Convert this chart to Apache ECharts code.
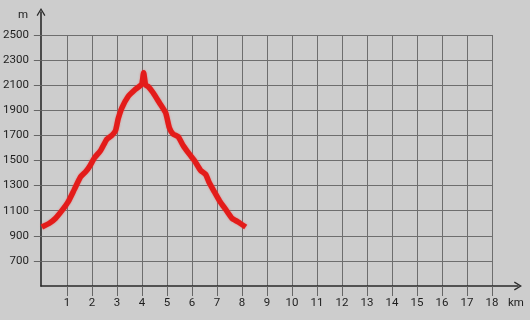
<!doctype html>
<html lang="en">
<head>
	<meta charset="UTF-8">
	<title>Höhenprofil</title>
	<script src="https://cdn.jsdelivr.net/npm/echarts@6/dist/echarts.min.js"></script>
	<style>
		html, body { margin: 0; padding: 0; width: 100%; height: 100%; background: #cdcdcd; }
		#main { width: 530px; height: 320px; }
	</style>
</head>
<body>
	<div id="main"></div>
	<script type="text/javascript">
		// distance (km) and elevation (m)
		var dist = [0, 0.3, 0.55, 0.8, 1.05, 1.3, 1.55, 1.75, 1.9, 2.1, 2.35, 2.6, 2.8, 2.95, 3.05, 3.2, 3.45, 3.7, 3.9, 4.0, 4.07, 4.15, 4.25, 4.45, 4.7, 4.95, 5.1, 5.25, 5.45, 5.65, 5.9, 6.1, 6.35, 6.55, 6.7, 6.9, 7.1, 7.35, 7.6, 7.85, 8.15];
		var elev = [970, 1000, 1040, 1100, 1170, 1270, 1370, 1410, 1450, 1520, 1580, 1670, 1700, 1740, 1830, 1920, 2010, 2060, 2090, 2110, 2200, 2100, 2090, 2040, 1960, 1880, 1760, 1710, 1690, 1620, 1550, 1500, 1420, 1390, 1320, 1250, 1180, 1110, 1040, 1010, 970];
		var xTicks = [1, 2, 3, 4, 5, 6, 7, 8, 9, 10, 11, 12, 13, 14, 15, 16, 17, 18];
		var yTicks = [700, 900, 1100, 1300, 1500, 1700, 1900, 2100, 2300, 2500];

		var chevron = 'path://M0,10 L6,0 L12,10 L10.5,10.9 L6,3.2 L1.5,10.9 Z';
		var labelFont = { color: '#1e1e1e', fontSize: 11.5, fontFamily: 'Roboto' };

		var myChart = echarts.init(document.getElementById('main'));
		var option = {
			backgroundColor: '#cdcdcd',
			animation: false,
			grid: [
				{ left: 41, right: 38, top: 35, bottom: 34 },
				{ left: 41, right: 12, top: 12, bottom: 34 }
			],
			xAxis: [
				{
					type: 'value', gridIndex: 0, min: 0, max: 18, interval: 1,
					axisLine: { show: false },
					axisTick: { show: true, length: 10, customValues: xTicks, lineStyle: { color: '#666' } },
					axisLabel: Object.assign({ margin: 11, customValues: xTicks }, labelFont),
					splitLine: { show: true, lineStyle: { color: '#6e6e6e', width: 1 } }
				},
				{
					type: 'value', gridIndex: 1, min: 0, max: 1,
					name: 'km', nameLocation: 'end', nameGap: -10,
					nameTextStyle: Object.assign({ align: 'left', verticalAlign: 'top', padding: [11, 0, 0, 0] }, labelFont),
					axisLine: { show: true, symbol: ['none', chevron], symbolSize: [12, 8], lineStyle: { color: '#2a2a2a', width: 1.6 } },
					axisTick: { show: false }, axisLabel: { show: false }, splitLine: { show: false }
				}
			],
			yAxis: [
				{
					type: 'value', gridIndex: 0, min: 500, max: 2500, interval: 200,
					axisLine: { show: false },
					axisTick: { show: true, length: 8, customValues: yTicks, lineStyle: { color: '#666' } },
					axisLabel: Object.assign({ margin: 13, customValues: yTicks, formatter: function (v) { return String(v); } }, labelFont),
					splitLine: { show: true, lineStyle: { color: '#6e6e6e', width: 1 } }
				},
				{
					type: 'value', gridIndex: 1, min: 0, max: 1,
					name: 'm', nameLocation: 'end', nameGap: -3,
					nameTextStyle: Object.assign({ align: 'right', verticalAlign: 'middle', padding: [0, 13, 0, 0] }, labelFont),
					axisLine: { show: true, symbol: ['none', chevron], symbolSize: [12, 8], lineStyle: { color: '#2a2a2a', width: 1.6 } },
					axisTick: { show: false }, axisLabel: { show: false }, splitLine: { show: false }
				}
			],
			series: [
				{
					type: 'line',
					xAxisIndex: 0, yAxisIndex: 0,
					data: dist.map(function (d, i) { return [d, elev[i]]; }),
					showSymbol: false,
					smooth: 0.15,
					lineStyle: { color: '#e31c1a', width: 5.5, shadowColor: 'rgba(240,80,80,0.6)', shadowBlur: 2 }
				}
			]
		};
		myChart.setOption(option);
	</script>
</body>
</html>
